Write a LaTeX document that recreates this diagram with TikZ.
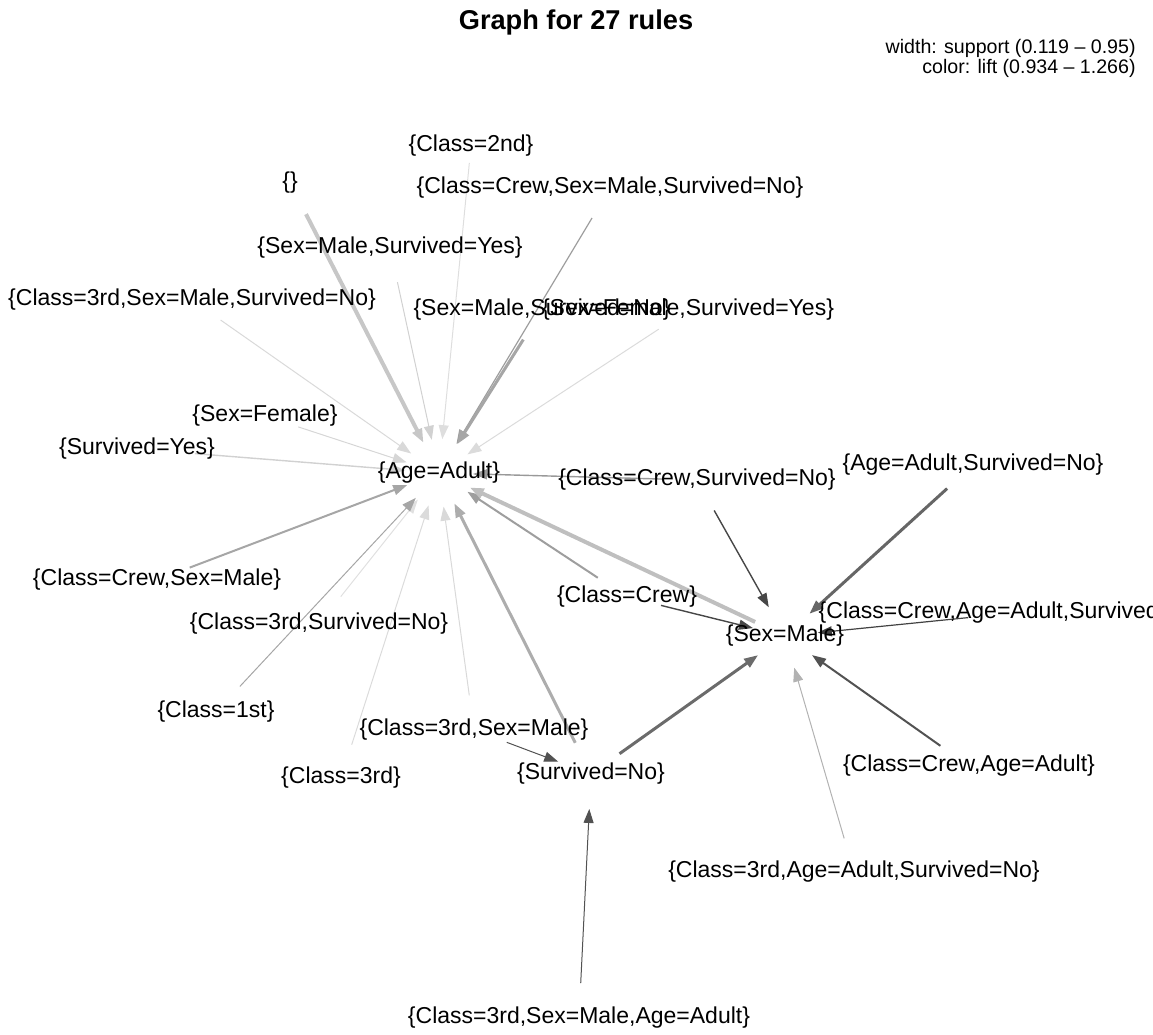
\documentclass[tikz,border=0pt]{standalone}
\usepackage{fontspec}
\setmainfont{Liberation Sans}
\usetikzlibrary{arrows.meta,backgrounds}
\begin{document}
\begin{tikzpicture}[x=0.5pt,y=-0.5pt,
  lbl/.style={font=\fontsize{11.5}{13.8}\selectfont,inner sep=0pt},
  vtx/.style={circle,inner sep=0pt,outer sep=0pt,minimum size=35pt,label={[lbl]center:#1}},
  rule/.style={-{Triangle[length=7pt,width=5pt]}}]
\useasboundingbox (0,0) rectangle (1153,1035);
\node[font=\bfseries\fontsize{13.6}{16}\selectfont] (title) at (576,22) {Graph for 27 rules};
\node[anchor=east,align=right,inner sep=0pt,font=\fontsize{9.8}{10}\selectfont] (legend) at (1136,58)
  {width: support (0.119 – 0.95)\\color: lift (0.934 – 1.266)};
\node[vtx={\{Class=2nd\}},minimum size=17pt] (c2) at (471,146) {};
\node[vtx={\{\}}] (v0) at (290,183) {};
\node[vtx={\{Class=Crew,Sex=Male,Survived=No\}}] (ccsmsn) at (610,188) {};
\node[vtx={\{Sex=Male,Survived=Yes\}}] (smsy) at (390,248) {};
\node[vtx={\{Class=3rd,Sex=Male,Survived=No\}}] (c3smsn) at (192,300) {};
\node[vtx={\{Sex=Male,Survived=No\}}] (smsn) at (542,310) {};
\node[vtx={\{Sex=Female,Survived=Yes\}}] (sfsy) at (688,310) {};
\node[vtx={\{Sex=Female\}}] (sf) at (265,416) {};
\node[vtx={\{Survived=Yes\}},minimum size=58pt] (sy) at (137,449) {};
\node[vtx={\{Age=Adult\}},minimum size=34pt] (aa) at (439,473) {};
\node[vtx={\{Class=Crew,Survived=No\}}] (ccsn) at (697,480) {};
\node[vtx={\{Age=Adult,Survived=No\}}] (aasn) at (973,465) {};
\node[vtx={\{Class=Crew,Sex=Male\}}] (ccsm) at (157,580) {};
\node[vtx={\{Class=Crew\}}] (cc) at (627,597) {};
\node[vtx={\{Class=3rd,Survived=No\}}] (c3sn) at (319,624) {};
\node[vtx={\{Sex=Male\}},minimum size=33pt] (sm) at (785,636) {};
\node[vtx={\{Class=Crew,Age=Adult,Survived=No\}},minimum size=46pt] (ccaasn) at (1014,613) {};
\node[vtx={\{Class=1st\}}] (c1) at (216,712) {};
\node[vtx={\{Class=3rd,Sex=Male\}}] (c3sm) at (474,730) {};
\node[vtx={\{Class=3rd\}}] (c3) at (341,778) {};
\node[vtx={\{Survived=No\}}] (sn) at (591,774) {};
\node[vtx={\{Class=Crew,Age=Adult\}}] (ccaa) at (969,766) {};
\node[vtx={\{Class=3rd,Age=Adult,Survived=No\}}] (c3aasn) at (854,872) {};
\node[vtx={\{Class=3rd,Sex=Male,Age=Adult\}}] (c3smaa) at (579,1018) {};
\begin{scope}[on background layer]
\foreach \s/\t/\w/\g in {v0/aa/2/22,c2/aa/.5/13,ccsmsn/aa/.6/38,smsy/aa/.5/18,c3smsn/aa/.5/15,
    smsn/aa/1.5/35,sfsy/aa/.5/14,sf/aa/.5/16,sy/aa/.7/18,ccsn/aa/.7/40,ccsm/aa/1/35,
    c3sn/aa/.5/12,c1/aa/.5/35,c3/aa/.5/14,c3sm/aa/.5/15,sn/aa/1.5/32,cc/aa/1/38,sm/aa/2/25,
    ccsn/sm/.7/72,aasn/sm/1.5/60,cc/sm/.7/72,ccaasn/sm/.6/74,sn/sm/1.5/58,c3aasn/sm/.5/30,
    ccaa/sm/1/68,c3sm/sn/.5/68,c3smaa/sn/.5/68}
  \draw[rule,line width=\w pt,draw=black!\g] (\s) -- (\t);
\end{scope}
\end{tikzpicture}
\end{document}
